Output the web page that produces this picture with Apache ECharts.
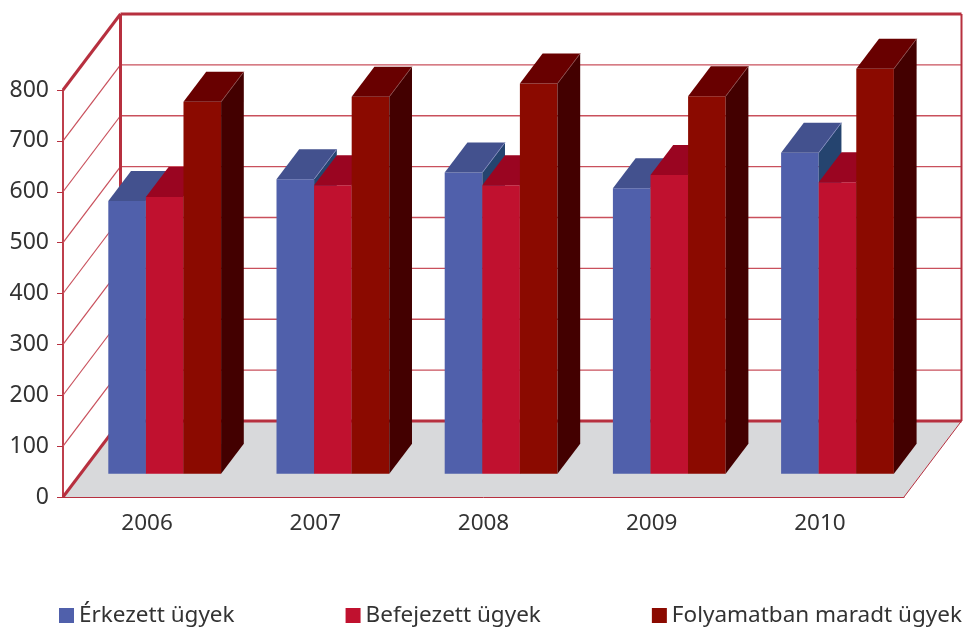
<!doctype html>
<html>

<head>
    <meta charset="utf-8">
    <title>Ügyek</title>
    <style>
        html, body { margin: 0; padding: 0; background: #fff; }
        #chart { width: 963px; height: 630px; }
    </style>
</head>

<body>
    <div id="chart"></div>
    <script src="https://cdn.jsdelivr.net/npm/echarts@6/dist/echarts.min.js"></script>
    <script>
        var years = ['2006', '2007', '2008', '2009', '2010'];
        var erkezett = [536, 579, 592, 561, 631];
        var befejezett = [544, 567, 567, 587, 573];
        var folyamatban = [731, 741, 767, 742, 796];
        var yTicks = [0, 100, 200, 300, 400, 500, 600, 700, 800];

        var FONT = '"Noto Sans", sans-serif';
        var FRAME = '#B7303F';
        var GRID = '#C9505C';
        var DEPTH_X = 57.5, DEPTH_Y = 76;       // back wall offset from the front plane
        var BAR_START = 0.306, BAR_DEPTH = 0.395; // share of the floor depth
        var BAR_WIDTH = 0.2235;                 // share of a category band

        var line = function (x1, y1, x2, y2, color, width) {
            return {
                type: 'line',
                shape: { x1: x1, y1: y1, x2: x2, y2: y2 },
                style: { stroke: color, lineWidth: width, fill: null }
            };
        };

        var poly = function (points, color) {
            return { type: 'polygon', shape: { points: points }, style: { fill: color } };
        };

        // floor, back wall and left wall
        var renderWalls = function (params, api) {
            var band = api.size([1, 0])[0];
            var left = api.coord([0, 0])[0] - band / 2;
            var right = left + band * years.length;
            var bottom = api.coord([0, 0])[1];
            var top = api.coord([0, 800])[1];
            var children = [
                poly([[left, bottom], [right, bottom], [right + DEPTH_X, bottom - DEPTH_Y], [left + DEPTH_X, bottom - DEPTH_Y]], '#D8D9DB')
            ];
            yTicks.forEach(function (t) {
                if (t === 0 || t === 800) return;
                var y = api.coord([0, t])[1];
                children.push(line(left, y, left + DEPTH_X, y - DEPTH_Y, GRID, 1.2));
                children.push(line(left + DEPTH_X, y - DEPTH_Y, right + DEPTH_X, y - DEPTH_Y, GRID, 1.3));
            });
            children.push(line(left, top, left + DEPTH_X, top - DEPTH_Y, FRAME, 3));
            children.push(line(left, bottom, left + DEPTH_X, bottom - DEPTH_Y, FRAME, 3));
            children.push(line(left + DEPTH_X, top - DEPTH_Y, right + DEPTH_X, top - DEPTH_Y, FRAME, 3));
            children.push(line(left + DEPTH_X, top - DEPTH_Y, left + DEPTH_X, bottom - DEPTH_Y, FRAME, 3));
            children.push(line(left + DEPTH_X, bottom - DEPTH_Y, right + DEPTH_X, bottom - DEPTH_Y, FRAME, 3));
            children.push(line(right + DEPTH_X, top - DEPTH_Y, right + DEPTH_X, bottom - DEPTH_Y, FRAME, 2));
            children.push(line(right, bottom, right + DEPTH_X, bottom - DEPTH_Y, FRAME, 1));
            return { type: 'group', children: children };
        };

        // one box, slot is the position of the series inside the category
        var makeBox = function (slot, colors) {
            return function (params, api) {
                var band = api.size([1, 0])[0];
                var center = api.coord([api.value(0), 0]);
                var topY = api.coord([api.value(0), api.value(1)])[1];
                var w = band * BAR_WIDTH;
                var shiftY = DEPTH_Y * BAR_START;
                var x1 = center[0] + DEPTH_X * BAR_START + (slot - 1.5) * w;
                var x2 = x1 + w;
                var y1 = center[1] - shiftY;
                var y2 = topY - shiftY;
                var dx = DEPTH_X * BAR_DEPTH, dy = DEPTH_Y * BAR_DEPTH;
                return {
                    type: 'group',
                    children: [
                        poly([[x1, y1], [x2, y1], [x2, y2], [x1, y2]], colors.front),
                        poly([[x1, y2], [x2, y2], [x2 + dx, y2 - dy], [x1 + dx, y2 - dy]], colors.top),
                        poly([[x2, y1], [x2 + dx, y1 - dy], [x2 + dx, y2 - dy], [x2, y2]], colors.side),
                        line(x2, y2, x2 + dx, y2 - dy, colors.edge, 1)
                    ]
                };
            };
        };

        var boxSeries = function (name, values, slot, colors) {
            return {
                name: name,
                type: 'custom',
                renderItem: makeBox(slot, colors),
                itemStyle: { color: colors.front },
                clip: false,
                z: 3 + slot,
                data: values.map(function (v, i) { return [i, v]; })
            };
        };

        var chart = echarts.init(document.getElementById('chart'), null, { renderer: 'canvas' });
        chart.setOption({
            animation: false,
            backgroundColor: '#fff',
            grid: { left: 63, right: 59, top: 90, bottom: 133 },
            legend: {
                left: 59,
                top: 604,
                width: 904,
                padding: 0,
                data: ['Érkezett ügyek', 'Befejezett ügyek', 'Folyamatban maradt ügyek'],
                icon: 'rect',
                itemWidth: 15,
                itemHeight: 15,
                itemGap: 111,
                textStyle: { fontFamily: FONT, fontSize: 22.5, color: '#333' }
            },
            xAxis: {
                type: 'category',
                data: years,
                axisLine: { lineStyle: { color: FRAME, width: 1 } },
                axisTick: { length: 8, lineStyle: { color: '#CC6670', width: 1 } },
                axisLabel: { fontFamily: FONT, fontSize: 22.5, color: '#333', margin: 15 }
            },
            yAxis: {
                type: 'value',
                min: 0,
                max: 800,
                interval: 100,
                axisLine: { show: true, lineStyle: { color: '#BE3F4C', width: 2 } },
                axisTick: { show: true, length: 6, lineStyle: { color: FRAME, width: 1 } },
                splitLine: { show: false },
                axisLabel: { fontFamily: FONT, fontSize: 23, color: '#333', margin: 14 }
            },
            series: [
                {
                    name: 'walls',
                    type: 'custom',
                    renderItem: renderWalls,
                    clip: false,
                    silent: true,
                    z: 1,
                    data: [[0, 0]]
                },
                boxSeries('Érkezett ügyek', erkezett, 0, { front: '#5060AB', top: '#43518E', side: '#25446F', edge: '#7F88BC' }),
                boxSeries('Befejezett ügyek', befejezett, 1, { front: '#C0112F', top: '#9A0521', side: '#7A0318', edge: '#B04050' }),
                boxSeries('Folyamatban maradt ügyek', folyamatban, 2, { front: '#8B0A00', top: '#680000', side: '#430000', edge: '#8A4A4A' })
            ]
        });
    </script>
</body>

</html>
